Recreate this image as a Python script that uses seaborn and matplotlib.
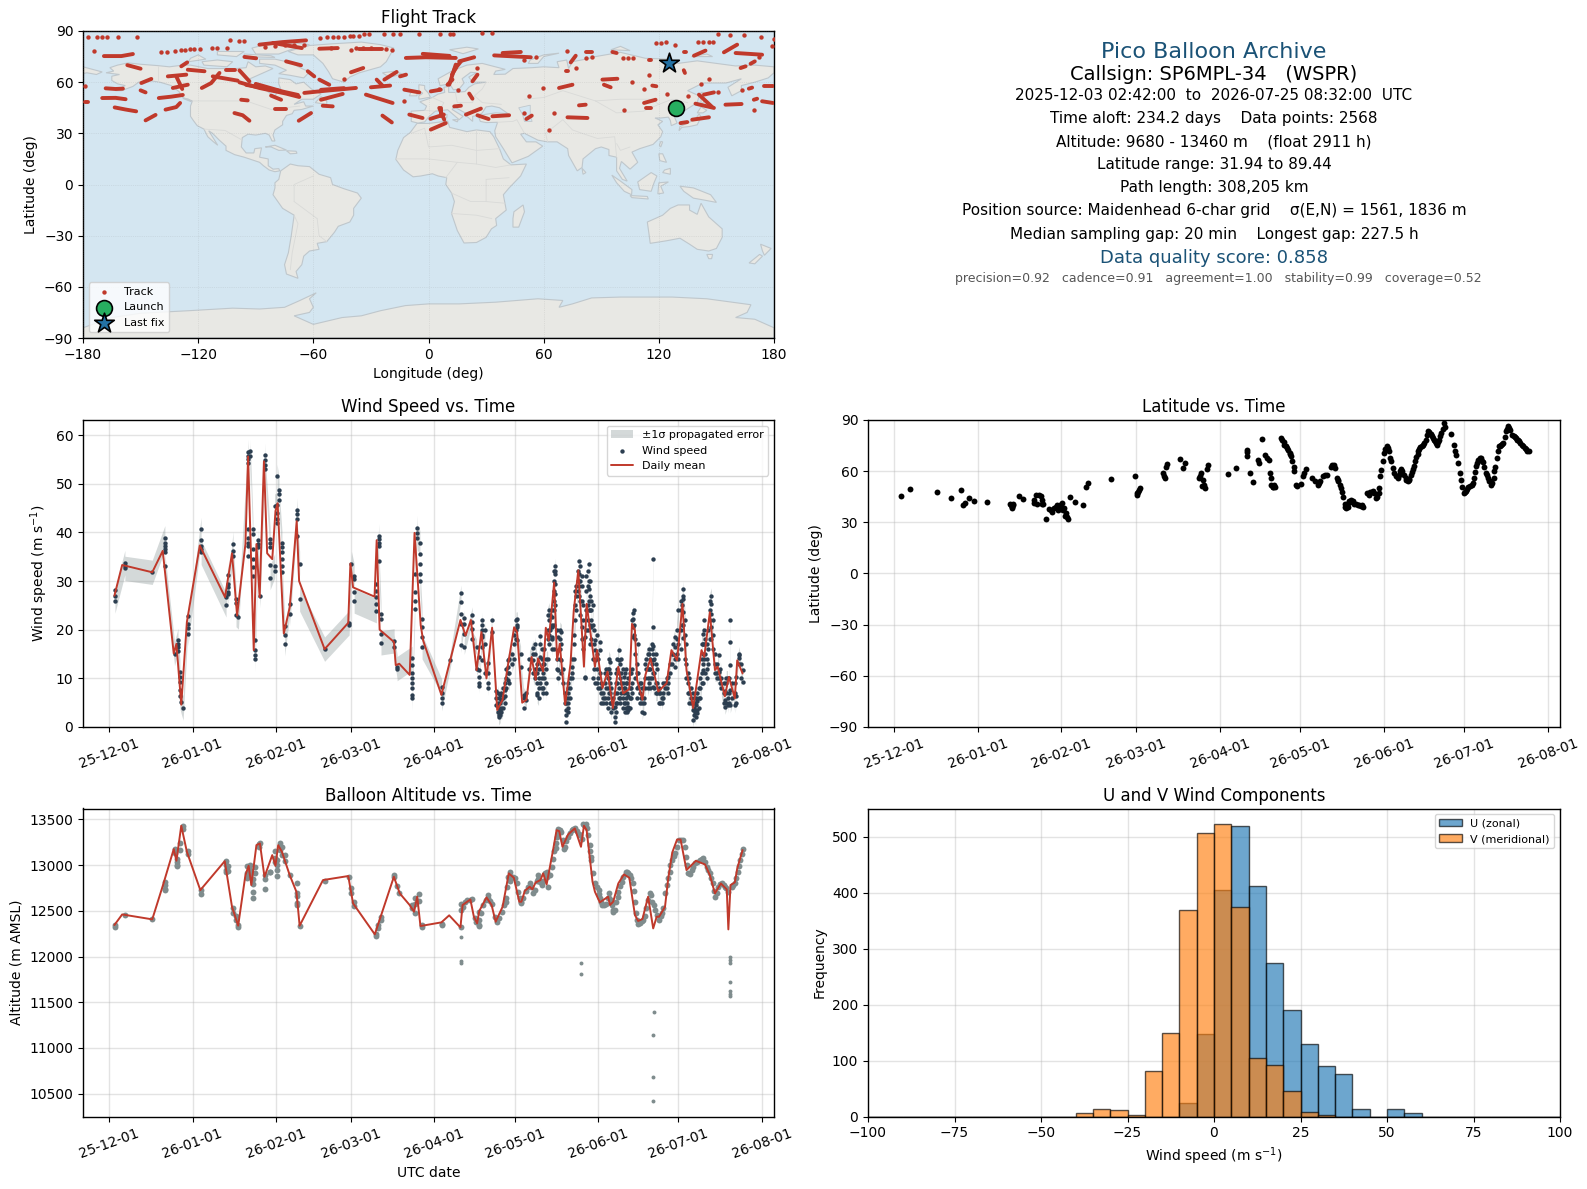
import numpy as np
import pandas as pd
import matplotlib
matplotlib.use("Agg")
import matplotlib.pyplot as plt
import matplotlib.dates as mdates
import seaborn as sns

sns.set_theme(style="ticks", rc={
    "font.size": 10, "axes.titlesize": 12, "axes.labelsize": 10, "axes.titlepad": 5.6,
    "xtick.labelsize": 10, "ytick.labelsize": 10, "legend.fontsize": 8,
    "axes.edgecolor": "black", "axes.linewidth": 1.0,
    "xtick.color": "black", "ytick.color": "black", "text.color": "black",
    "axes.labelcolor": "black", "xtick.major.size": 3.5, "ytick.major.size": 3.5,
    "xtick.major.width": 0.8, "ytick.major.width": 0.8,
})

FIG_W, FIG_H = 1587, 1189
START = pd.Timestamp("2025-12-01")

# =========================
# land outlines (lon, lat), read by eye
# =========================
land_polys = [
    # north america
    [(-168,65.5),(-164,66.5),(-166,68.5),(-162,70),(-156.5,71.3),(-150,70.5),(-141,69.7),(-135,69),(-128,70),(-124,70),
     (-115,68),(-108,68),(-100,68),(-95,68.5),(-94,72),(-90,69),(-85,69.5),(-81,68),(-87,65),(-93,62),(-94.5,59),(-92,57),
     (-85,55.5),(-82,53),(-80,51.5),(-79,54),(-77,56),(-78,59),(-78,62.5),(-72,61.5),(-69,59),(-65,60),(-61,56),(-56,53),
     (-60,50),(-66,50),(-70,47),(-65,48.5),(-64,46),(-60,46),(-66,44),(-70,43.5),(-71,41.5),(-74,40.5),(-76,37),(-76,35),
     (-80,32),(-81,29),(-80,25.5),(-81.5,25.5),(-83,29),(-85,30),(-90,29),(-94,29.5),(-97,27.5),(-97.5,22),(-95,18.5),
     (-91,18.5),(-90.5,21),(-87,21.5),(-88,16),(-83.5,15),(-83.5,11),(-81,9),(-78,9.3),(-77.5,8),(-80,7.5),(-83,8.5),
     (-86,11),(-88,13),(-92,14.5),(-96,16),(-101,17.5),(-105.5,20),(-105.5,22.5),(-109,26),(-112.5,30),(-114.5,31.5),
     (-112,27),(-109.8,23),(-112,25),(-115,28),(-117,32.5),(-120.5,34.5),(-122.5,37.5),(-124,40),(-124,46),(-123,49),
     (-128,51),(-130,54.5),(-134,58),(-140,60),(-146,61),(-151,60),(-154,57.5),(-160,55),(-163,55),(-158,58),(-162,59),
     (-165,61),(-165,63.5),(-161,64.5)],
    # greenland
    [(-73,78),(-68,76),(-60,76),(-55,71),(-52,66),(-50,62),(-44,60),(-41,63),(-36,65.5),(-25,69),(-22,72),(-20,76),
     (-18,80),(-25,82),(-35,83.5),(-50,82.5),(-62,81.5),(-70,79)],
    # canadian arctic and atlantic islands
    [(-80,73.5),(-72,71.5),(-66,68),(-62,66),(-65,62.5),(-72,64),(-78,65),(-74,67),(-80,70),(-88,71),(-88,73.5)],
    [(-117,70),(-105,69),(-102,72),(-110,73),(-118,72)],
    [(-125,72),(-116,73.5),(-120,76),(-124,74)],
    [(-90,76.5),(-78,76.5),(-72,79),(-62,82),(-70,83),(-85,82),(-92,80)],
    [(-96,75),(-80,74.5),(-82,75.5),(-96,76.5)],
    [(-110,76),(-100,75),(-96,78),(-110,78)],
    [(-59,48),(-53,47),(-53,49),(-56,51.5)],
    [(-85,22),(-80,23),(-74,20.2),(-78,20),(-82,22)],
    [(-74,19.8),(-69,19.5),(-68.5,18.3),(-72,18)],
    [(-128,50.5),(-123.5,48.5),(-125,50)],
    # south america
    [(-77,8),(-72,12),(-68,11),(-62,10.5),(-57,6),(-51,4),(-50,0),(-44,-2.5),(-37,-5),(-35,-8),(-39,-14),(-39,-18),
     (-41,-22),(-47,-24.5),(-49,-28),(-53,-33.5),(-58,-34.5),(-57,-38),(-62,-39),(-65,-42),(-66,-47),(-69,-51),(-68,-55),
     (-74,-52.5),(-75,-47),(-73,-40),(-71.5,-30),(-70,-18),(-76,-14),(-81,-6),(-80,-2),(-80,1),(-78,3)],
    # africa
    [(-6,35.8),(0,35.8),(10,37.2),(11,33.5),(20,31),(25,32),(32,31),(34,28),(37,21),(39,15),(43,11.5),(51,12),(48,5),
     (42,-2),(39,-6),(40.5,-15),(35,-20),(35.5,-24),(32.8,-26),(30,-31),(25,-34),(18.5,-34.3),(15,-27),(12,-17),(13.5,-10),
     (12,-5),(9,0),(9.5,4),(5,5),(2,6.3),(-4,5),(-8,4.5),(-13,8.5),(-17,14.7),(-16,20),(-13,27.5),(-9.5,30.5)],
    # eurasia
    [(-9,37),(-9,43),(-2,43.5),(-1,46),(-4.5,48.5),(2,51),(5,53),(8.5,54),(8,57),(10.5,57.5),(10.5,54),(14,54),(19,54.5),
     (21,57),(24,59),(30,60),(23,60),(21,63),(25,65.5),(22,65.8),(17.5,62),(18.5,59.5),(16,56),(13,55.5),(11,59),(6,58),
     (5,62),(13,67),(20,70),(28,71),(40,67.5),(35,66.5),(34,64.5),(40,64.7),(44,68),(54,68.5),(60,69),(68,68.5),(67,72),
     (72,73),(73,68),(75,72),(82,73.5),(87,75),(100,77.5),(113,74),(125,73.5),(130,71),(140,72.5),(150,71),(160,69.5),
     (170,70),(180,69),(180,65.5),(177,62.5),(170,60),(163,58),(163,55),(158,52),(156,57),(163,62),(155,59.5),(143,59.5),
     (135,55),(141,52),(140,48),(133,43),(128,40),(129.5,36),(126.5,34.5),(126,37.5),(125,39.5),(121,39),(118,39),(122,37),
     (119.5,35),(122,31),(121,28),(117,23.5),(110,21),(106,19),(109,13),(105,9),(100.5,13.5),(99.5,9.5),(103.5,2),(101,3),
     (98,8),(98,16),(94,17),(94,20.5),(90,22),(87,21),(80.5,15),(80,10),(77.5,8),(73,17),(72.5,21),(67,25),(62,25),(57,26),
     (50,30),(48,29.5),(51,25),(56,25),(59.5,22.5),(52,16.5),(43.5,12.7),(39,21),(35,28),(34.5,31.5),(36,36.5),(30,36.3),
     (27,37),(26,40),(29,41),(35,42),(41.5,41.5),(37,45),(33,46),(30,45.5),(28,42),(26,40.5),(23,40),(23,37),(20,40),(19,42),
     (13.5,45.5),(12.3,44),(18,40),(16,38),(10,43.8),(3.5,43),(0,39.5),(-2,36.7),(-5.5,36)],
    [(-180,69),(-175,67.5),(-170,66),(-173,64.5),(-178,65.5),(-180,65)],
    # european and asian islands
    [(-5,50),(1,51.2),(0,53.5),(-2,56),(-2,58),(-5,58.5),(-5,55),(-3,53.5),(-5,52)],
    [(-10,52),(-6,52),(-6,55),(-9,54.5)],
    [(-24,65.5),(-18,66.3),(-14,65),(-18,63.5),(-22,64)],
    [(11,79),(20,80.5),(26,79.5),(18,76.7)],
    [(52,71),(57,71),(60,75),(68,77),(60,76),(53,73)],
    [(95,79),(105,78.5),(100,81)],
    [(137,75),(148,75),(145,76.5)],
    [(142,46),(143.5,49),(143,54),(142,54),(142,49)],
    [(130.5,31.5),(132,33.5),(136,34),(140,35),(142,39.5),(141,41.5),(139.5,39),(136,36.5),(131,34)],
    [(140,42),(143,42),(145,43.5),(142,45.5)],
    [(120.3,23),(121,22),(122,25),(121,25.2)],
    [(120,18),(122,18),(124,13),(120.5,14)],
    [(122,7),(126,6),(126,9.5),(123,8.5)],
    [(95.5,5.5),(100,2),(106,-3),(105.8,-6),(102,-4),(98,1)],
    [(105,-6.5),(114,-7),(114.5,-8.5),(106,-7.7)],
    [(109,1.5),(116,7),(119,5),(117.5,1),(116,-4),(110,-3)],
    [(119.5,-5.5),(120,1),(125,1.5),(121,-1),(122.5,-5)],
    [(131,-1),(138,-2),(147,-6),(150,-10.5),(143,-9),(138,-8),(133,-4)],
    [(80,9.5),(82,7),(80.5,6)],
    [(8.3,41),(9.7,41),(9.5,39),(8.4,39)],
    [(12.5,38),(15.5,38),(15,36.7)],
    # australia, new zealand, madagascar
    [(114,-22),(122,-18),(126,-14),(130,-12),(136,-12),(136,-15),(140,-17.5),(142,-11),(146,-19),(153,-26),(153,-31),
     (150,-37.5),(146,-39),(140,-38),(136,-35),(131,-31.5),(124,-33),(115.5,-34.5),(115,-30)],
    [(145,-41),(148,-41),(147.5,-43.5),(146,-43.5)],
    [(173,-35),(178.5,-37.5),(175,-41.5),(174,-39)],
    [(172.5,-41),(174,-42),(170,-46.5),(167,-46)],
    [(49.3,-12),(50,-16),(47,-25),(44,-25),(44,-20),(44.5,-16)],
    # antarctica
    [(-180,-84),(-165,-78),(-150,-75.5),(-125,-74),(-102,-72.5),(-88,-73),(-75,-72),(-67,-68),(-58.5,-63.5),(-62,-67),
     (-60,-72),(-62,-75),(-70,-77),(-60,-82),(-45,-78),(-35,-77),(-25,-74),(-12,-71),(0,-70),(16,-70),(35,-69),(57,-67),
     (70,-68),(68,-72),(75,-70),(85,-66.5),(100,-66),(127,-66),(145,-67),(168,-70.5),(166,-75),(160,-78),(170,-79),
     (180,-84),(180,-90),(-180,-90)],
]
water_polys = [[(47,45),(53,46.5),(53,40),(54,37),(50,37),(49,41)]]
border_lines = [
    [(-123,49),(-95,49),(-82,44),(-75,45),(-67,46)], [(-117,32.5),(-106,31.7),(-97,26)], [(-141,69.7),(-141,60)],
    [(-70,-10),(-70,0),(-60,5)], [(-58,-20),(-70,-10)], [(-58,-20),(-57,-30),(-53,-33.5)], [(-70,-18),(-68,-23),(-71,-40),(-72,-50)],
    [(-9,30),(-2,33),(0,22),(12,23),(25,20),(37,21)], [(25,32),(25,12),(35,10),(43,11.5)], [(-17,15),(0,15),(15,13),(25,12)],
    [(12,-5),(22,-10),(30,-10),(40,-11)], [(12,-17),(25,-18),(33,-20)], [(9,4),(15,13)], [(30,-10),(30,3),(42,4)],
    [(30,60),(28,56),(24,52),(28,48),(38,47)], [(2,51),(8,48),(6,44)], [(-2,43.5),(3,43)], [(14,54),(15,48),(23,48),(24,52)],
    [(50,50),(60,51),(70,55),(87,49)], [(87,49),(98,42),(112,43),(120,47),(116,50),(100,50),(87,49)],
    [(62,25),(61,30),(70,38),(75,32),(80,30),(88,27),(97,28),(98,16)], [(50,30),(46,38),(44,37),(36,36.5)],
    [(120,47),(127,50),(135,48)], [(105,22),(100,20),(98,24)],
]

# =========================
# flight track
# =========================
track_runs = [
    [(-169.1,75.3),(-160,75.3),(-154,76.5)], [(-156.9,70),(-150,67.9)], [(-149.6,59.5),(-144.4,61.9)],
    [(-150,55.2),(-147.4,54)], [(-179.1,48.4),(-177.4,48.4)], [(-168.2,56.4),(-163,56),(-159.2,56.2)],
    [(-170,50.7),(-163,50.8),(-157.8,50)], [(-163.5,45.2),(-158,44),(-152.3,42.9)], [(-147.4,37.6),(-142.2,40.8)],
    [(-140.5,50.7),(-134,51.5),(-128,52.5)], [(-137,43.9),(-131.4,45.4),(-129.4,47.8)], [(-135.8,63.4),(-126.2,64.4)],
    [(-133.2,56.6),(-125.4,58.5)], [(-131.4,63.4),(-128.3,56)], [(-128.8,69.3),(-125.7,71.6)],
    [(-125.4,67.3),(-116.7,66.4)], [(-118.1,56.6),(-113.2,59.5),(-108.9,65.4)], [(-112.4,63.4),(-99.4,60.9)],
    [(-105.4,66.9),(-100.6,66.9)], [(-98.5,66.9),(-93.3,60.5)], [(-95.9,74.8),(-89.8,74)],
    [(-88.1,82),(-76,83.5),(-63.8,84.5)], [(-81,83),(-66,80)], [(-74.2,72.2),(-66.4,69.9)], [(-62.9,66.4),(-59.5,63.4)],
    [(-56.9,61.5),(-51.7,58.5)], [(-98.5,59.9),(-88.1,56.6),(-74.2,53.3),(-67.3,51.3)], [(-95,58.4),(-78,55)], [(-90,59),(-76,54.5),(-68,52.5)],
    [(-97.6,49.7),(-94.2,49.3)], [(-82,52.1),(-76.8,49.7)], [(-79.8,44.3),(-74.2,44.3)],
    [(-101.1,41.9),(-96.8,40.6),(-93.3,37.4)], [(-67.6,37.4),(-61.2,41.9)], [(-64.7,53.7),(-53.4,55),(-37.8,56.6)], [(-56,55.5),(-44,56.5)],
    [(-56,49.7),(-44.7,53.1)], [(-55.1,46.2),(-49.9,45.8)], [(-56.9,79.6),(-47.3,80)],
    [(-36,79.4),(-24,79.4)], [(-40.4,65.8),(-34,68.3)], [(-32.6,52.7),(-18.7,47.8)], [(-30,57),(-20,58)], [(-27,61.5),(-24,58)],
    [(-23,61.5),(-16.6,66)], [(-14.8,63.4),(-11.7,64.4)], [(-24,40.4),(-19.1,36.4)], [(-12.6,55.6),(-4.8,54)], [(1.2,54.6),(6.4,55.6)],
    [(-11.8,74.2),(-1.4,74.6),(14.2,74.2)], [(-3,76.6),(11,75.4)], [(-10,41),(-3.1,39)], [(1.2,32.2),(9,36)], [(1,38.5),(8,41)], [(6.4,44.9),(6.4,40)],
    [(14.2,70.3),(10.8,58.5)], [(5.6,44.9),(8.2,38)],
    [(16,72.2),(23.8,74.6)], [(13.4,67.3),(16.9,72.2)], [(9.9,58.5),(12.5,61.5)], [(12.2,64.4),(14.3,68.3)], [(22.9,60.5),(25.5,64.4)],
    [(21.2,53.3),(22.9,50.3)], [(13.4,45.8),(16.9,46.2)], [(19.5,41),(27.3,44.5)], [(25.5,40.6),(31.3,38.4)], [(33.3,40),(42,40.6)],
    [(51,38.4),(53.8,40.4)], [(34.2,75.7),(53.3,74.6)], [(38.6,77.1),(48.1,77.7)], [(74.1,71.6),(76.7,75.5)],
    [(82,77.7),(85,77.7)], [(95.8,77.7),(98,77.1)], [(138.3,75.5),(144.3,78.5)], [(133,67),(133.6,65.4)], [(116.6,58),(118.7,57.6)],
    [(139.1,47.4),(148.7,44.9)], [(140.9,52.7),(147.8,45.4)], [(143.5,52.7),(148.7,54)], [(137.4,38),(146.1,39.4)], [(131.3,36),(134.8,36.6)],
    [(154.7,46.8),(163.1,47.2)], [(166.9,56.2),(168.6,56.8)], [(169.5,49.7),(171.2,50.3)], [(173.8,48.8),(179.5,47.8)], [(174.7,57.6),(179.5,57.6)],
    [(162.6,68.3),(165.2,69.3)], [(167.8,70.8),(170,72.2)], [(153.9,77.5),(160.8,82)], [(160,77.1),(173.8,76.1)], [(90.6,61.5),(98.4,62)],
    [(91.4,58.5),(94.9,57)], [(75,58.5),(68,56.6)], [(78.4,46.4),(81.9,46.8)], [(72.4,39.4),(82.8,39)], [(112.3,47.8),(118.3,49.7)], [(113.1,44.9),(115.7,44.9)],
    [(71.5,66.4),(72.5,66.4)], [(115,73),(116,73)], [(133,77.5),(134,77.5)],
]
track_lon = [-177.4,-172.7,-170.1,-167.5,-161.8,-151.9,-174.3,-179.1,-139.2,-136,-132,-129,-127,-124,-122,-119.3,-112.7,-110,-105,-103.3,-98.5,-95.9,
             -43.9,-40.4,-31,-23,-18.5,-15,-5,6,11,13,-13,28,33,50,56,72,77,82,85,101.3,104.1,106.7,118.7,121.3,123.5,128.4,140.2,143,146,148,
             142.1,146.3,114.9,112.4,124.4,135.3,105.8,59.4,52.6,49.8,65.4,62.8,102,150.9,163.4,169.8,172.1,179,151,157,164.5,173,180,-51,-38,-34,-30,15.5,25.2,5.6,
             -56.4,-53,-50,-47,-44,-41,-39.5,-36,-33.4,-22,-19,-85,-80,-75,-70,-65]
track_lat = [86.5,86.5,86.5,86.5,86.5,86.5,78.3,57.6,77.7,77.9,78.2,78.6,79,79.3,79.5,79.4,80,80.2,80.2,84.9,84.1,84.1,
             62,78.7,88.5,88.5,88.5,88.5,88.5,88.5,88.5,88.5,49,88.8,88.8,73,75,78,68.3,74.2,75,74.2,74.2,74.2,83,83,83.5,81.8,83.4,83.4,83.4,83.4,
             58.9,61.9,64.4,56,53.1,52,60,56.6,51.9,41.9,41.9,32,43.9,54.4,55.6,43.9,75,81.4,88,87.5,87.5,86.5,85.5,80,80,80,80,55.4,68.3,56,
             85.9,86.2,86.2,86.5,86.5,86.8,86.9,87.3,88.2,79.4,79.1,80.5,81,81.5,82,82]
launch_lon, launch_lat = 128.8, 44.8
last_lon, last_lat = 125.1, 71.2

# =========================
# wind speed: (day since 2025-12-01, values at that day)
# =========================
wind_cols = [
    (2.1,[28.2,26.9,25.9]),(5.8,[33.8,33.1,32.6]),(16,[31.8]),(20.7,[38.9,37.9,37.2,36.5,35.9,33.1]),(24.3,[15.1]),
    (25.6,[17.8,17.1,16.5,15.6]),(26.3,[11.4,10.3,9.3,7.6,6.3]),(26.8,[5.2]),(27.5,[3.9]),(29.3,[22.9,21.2,20.4,19.2]),
    (34.2,[40.6,38.4,37.3,36.5,35.9]),(43.5,[25.1,26.7]),(44.2,[31.2,29.4,28.7,27.7,27.3]),(46.1,[37.7,36.2,35.2]),
    (47.2,[26.3,25.5,23.1]),(48.1,[22.6]),(51.7,[56.6,55.8,55.1,54.2,40.6,38.9,37.9,37.2,35.2]),(52.5,[56.7,55.6]),
    (53.5,[40.6,39.6,36.5,34.5,32.8,31.1]),(54.3,[17.8,15.8,14.8,13.9]),(55.4,[38.4,37.6,36.9]),(56.1,[27]),
    (58,[55.9,54.9,53.9,53.1]),(59.9,[38.6,37.9,37,33.3,30.7]),(61.6,[33.1,32.1,45.4]),(62.5,[45.7,44,42.7,42,51.5]),
    (63.2,[48.8,47.8,46.7]),(64.3,[37.9,36.9,35.9,34.5,33.1,31.8]),(65.3,[20.7,19,17.1]),(67.2,[25.3,23.3]),
    (70,[44.6,43.7,42.7,39.3]),(70.9,[33.6,26.3]),(80.2,[16]),(89.3,[21.4,21]),(90.2,[33.6]),(91.2,[31.1,30.4,27.7,25.9]),
    (99.5,[23.9,25.3,26.7,28,29.4]),(100.4,[39.3,38.6,37.9,37.2,34.1]),(101.2,[23.3,22.2,19.2,17.3]),(106.1,[17.7,16.5]),
    (107.2,[12.4,12]),(112.8,[14.1,12.7,11,10,9,8,6.6,5.9]),(113.8,[24.3,26,27.7,31.4]),(114.7,[41,39.9,38.9]),
    (115.7,[37.9,35.5,33.5,31.4,30.1]),(116.5,[22.2,20.5,18.5,16.5]),
    (123.8,[8.3,6.9,5.9,4.9]),(127,[13.7]),(131,[27.6,25.6,23.3,21.2,16.9]),(132.2,[22.4,21.2,19.2,16.5]),
    (135.2,[23.1,21.6,20.2,18]),(136.8,[16.5,12]),(137.8,[14.4,11.7,10.3,9,8.5]),(139,[22,21,20,19,18.5,16.5,13.7]),
    (140,[20,17,11]),(141.1,[13.1,11,9,8]),(142.5,[22,19.5]),(144,[7.5,6,4.5]),(145,[6,4,2.5,2]),(146,[7,5.5,4,3]),
    (147.3,[9,7.6,6.3,4.9]),(148.6,[13.7,12.4,11,9.7]),(150,[15,13]),(152,[22.1,21,20.5,17.8]),(153.2,[15.1,12.4]),
    (154.4,[5.9,3.9,6.5]),(155.4,[5.5,7]),(157.9,[16.3,15.1,13.7,11]),(159.4,[13,11,9,7,6.5]),(160.6,[18.8,17,14.4,9]),
    (161.6,[13,11,8,7]),(162.8,[7,9,12,14]),(163.9,[24,22,19,17]),(164.8,[22.6,20.5,18.5,16]),(165.5,[26,24,21,16]),
    (166,[33.1,32,31.4,29.4,27.4,25]),(167.2,[18.5,15.8,11.7,10]),(168.4,[19.5,17,13.7,11]),(169.8,[7,5]),
    (170.2,[4.9,3.5,1,2.5,6]),(171.5,[10,8,6]),(172.5,[14,12.4,11,10]),(174,[29,27,24]),(175,[34.1,31.4,30.1,29,27]),
    (175.9,[31,28.9,26,20.6,18]),(177.1,[18.5,10.3,10]),(178.8,[33.5,30,28.3,26,24]),(179.6,[26,24,22,20.5,18]),
    (180.2,[25,21,14,10]),(180.9,[17.8,15.8,13.7,9]),(182.7,[17.5,15.8,11,8]),(184,[7,5,6]),(185,[5,8,12]),
    (186.5,[13.4,11,9,7,5]),(187.6,[6,4]),(188.3,[4.2,2.1,1.1,7]),(189.8,[15.8,13.7,11,8,6]),(190.7,[14,11,9,7]),
    (191.7,[10.3,6.9,4.9,8]),(192.5,[12,9,6,4]),(193.3,[6.3,4.2,3.5,10]),(194.2,[11,8,6]),(195.1,[23.5,22.2,20.5,18.5]),
    (196,[18,15,10]),(197,[17.1,11,8.3]),(198,[9,6]),(199.1,[4.9,2.9,6]),(200.5,[15,12,10,8]),(201.5,[14,12,10,8]),
    (202.6,[34.6,20.6,16.6,15,13.7,11,8.3]),(203.5,[15,13,9,7]),(204.8,[6.9,4.9,8]),(205.8,[6,5]),(207,[9,8]),
    (208.2,[10.3,6.9,9]),(209.5,[15,13]),(210.7,[18.5,16.5,12.4,14]),(212,[24,17,14]),(213.8,[28.4,26.4,23.6,20.9,18.2,27]),
    (214.5,[22,19,14]),(215.5,[11,9,7]),(216.5,[8,6,5]),(217.3,[6.9,4.9,3.5,1.5]),(218,[5,3.5,3]),(218.8,[5.4,3.5,2.9,7]),
    (220,[10,8,6]),(221.2,[19.2,17.1,15.1,11.7,13,9]),(222.5,[17,14,12,10]),(224.3,[27,25.3,23.3,20.5,18]),(225,[22,19,16]),
    (227,[14.8,11.4,10.1]),(228,[10,8]),(229.3,[7.5,5.5,4.2]),(230.3,[10,6,4.5]),(231.3,[21.9,17.5,12.8,7.6,4.5]),
    (233.4,[4.9,6.3,10.3]),(234.5,[14.8,14.1,13,15]),(235.9,[11.7,9.3]),
    # the dense stretch from April on, between the columns above
    (144.7,[3,5,7]),(145.6,[2.5,3.5,5,6.5]),(146.6,[4,6,8]),(147.9,[8,10,12]),(149,[9,11,14]),(150.6,[14,17,19]),(151.5,[18,20,22]),
    (156.5,[12,14]),(158.5,[10,12,15,17]),(159.9,[6,8,10,12]),(161,[8,10,12,14,16]),(162,[10,13,16]),(163.3,[14,18,20,23]),(164.3,[20,23]),
    (165,[18,21,24]),(165.8,[28,30,32]),(166.6,[20,14,12]),(167.8,[14,16,18,20]),(169,[9,12]),(170.7,[3,4,6,8]),(171,[5,7,9]),(173,[14,17,19]),
    (173.6,[22,25,28]),(174.6,[30,32,28]),(175.4,[33,30,26,23]),(176.4,[22,25,16]),(177.7,[28,31,24,20]),(178.2,[32,29,25,22,20]),(179.2,[30,27,24,21,17]),
    (180.5,[20,17,12]),(181.5,[19,15,12,9]),(182,[14,10,8]),(183.3,[7,5,9]),(184.6,[6,9,11]),(185.6,[4,6,8,10,12]),(186,[7,10,12,14]),(187,[3,5,8]),
    (188.8,[3,5,9,11]),(189.3,[5,7,9,12,14]),(190.3,[13,10,6,5]),(191.2,[12,9,6,4]),(192,[11,8,5,3]),(193,[5,7,9,3]),(193.8,[4,6,8,11]),(194.7,[9,7,12,22]),
    (195.5,[21,24,19]),(196.5,[13,8,6,11]),(197.6,[9,7,5]),(198.5,[8,5,3]),(199.6,[8,10,13]),(200,[12,14]),(201,[9,12,15,16]),(202,[10,13,16,17]),(203,[8,11,14]),
    (204.2,[7,9,12]),(205.2,[5,7]),(206.4,[7,9,6]),(207.6,[8,10]),(208.8,[11,13]),(210,[15,17]),(211.3,[15,18,20]),(212.8,[26,24,20,16]),(213.2,[21,25]),(215,[17,13,10]),
    (216,[7,10,5]),(217.7,[2.5,4,6]),(218.4,[2,3,4.5,6]),(219.5,[4,6,8]),(220.6,[9,11,14,17]),(221.7,[14,17,20,22]),(222,[11,15,18]),(223,[13,16,20]),(223.7,[18,22,24,26]),
    (225.6,[13,15,11]),(226.3,[11,13,10]),(227.6,[9,12]),(228.8,[5,7,9]),(229.8,[5,7,9,10]),(230.8,[7,10,5]),(232,[6,9]),(233,[4.5,7,9]),(235.2,[13,10]),
]
sigma_early = 2.5   # m/s, band half width before mid April
sigma_late = 1.6
sigma_split_day = 120

mean_days = [1.9,4.8,16,19.9,24,25,26.8,28.9,33.7,43.1,45.7,47.6,50.7,51.7,53.8,54.8,56,57.6,58.8,60.7,61.9,62.7,65,67.2,69.8,70.7,80.2,89,89.8,90.8,98.8,99.6,100.7,106,106.7,108,111.9,113.7,116,
             116.9,123.7,130.8,132.7,134.7,136.8,138.6,140.5,142.6,144.5,146.5,148.2,150.8,151.9,153.8,155.4,157.3,158.8,159.7,161.6,162.6,163.7,165.7,166.8,167.8,169.8,171.8,173,174.7,176.8,177.8,180.9,181.7,183.7,185.6,187.6,189.6,191.4,193.7,194.7,195.8,196.6,198.6,199.7,201.6,204.5,207.6,209.4,211.5,213.5,215,217.5,220.6,221.6,223.7,225.6,226.6,229.3,230.8,233,233.9,235.9]
mean_wind = [27,33.3,31.8,36.2,15.1,17.1,4.6,21.6,37.3,26.7,35.7,22.9,37.6,55.6,15.8,37.6,26.7,54.6,35.7,34.5,44.4,46,19.2,24.6,42.3,30,16,21.4,33.6,28.7,26.8,38.4,20,17.5,12.7,13,10.7,39.9,20.9,
             17.8,6.6,22,18.8,22,11.7,19.5,10,20.4,3.5,5.6,11.7,20.5,19.5,5,5.6,14.4,9.7,14.1,11.4,20.4,17.8,29.7,13.7,17.1,4.6,13,23.9,32.2,12.4,25.3,12.4,15.8,8,11.4,3.9,12.4,6.9,7.8,21.2,19.9,9.7,5.6,10.7,14.1,7.3,9,15.8,13.7,25.3,11.7,3.9,15.8,14.4,23.6,11.7,12.4,6.3,10.3,5.9,13.7,11]

# =========================
# altitude
# =========================
alt_cols = [
    (2.1,[12327,12345]),(5.8,[12454]),(16,[12410]),(20.7,[12820,12780,12740,12730]),(24.3,[13180,13130]),(25.3,[13070,13000,12990,13040]),
    (26.2,[13240,13170]),(27.4,[13430,13400]),(29.3,[13150,13120]),(34.2,[12730,12680]),(43.5,[13050,13000,12950,12920]),(44.2,[12990,12940]),
    (46.1,[12530,12480]),(47.2,[12440,12400]),(48,[12340,12320]),(51.4,[12990,12910,12860]),(52.4,[13000,12950,12890]),(53.5,[12790,12710,12640,12850]),
    (54.4,[12980,12910]),(55.7,[13230,13200]),(56.1,[13240]),(58,[12890,12850,12735]),(59.9,[12930,12920]),(61.6,[13150,13080,13030]),
    (62.5,[13060,13000,12950,12880]),(63.5,[13240,13170]),(64.3,[13200,13110]),(65.4,[13110,13050]),(67.2,[12890]),(70,[12800,12700,12660,12590,12560]),
    (70.9,[12330]),(80.2,[12830]),(89.3,[12875]),(90.2,[12750,12700]),(91.2,[12600,12550]),(99.5,[12220,12250]),(100,[12310,12350]),(101.2,[12435,12400]),
    (106.1,[12870,12890]),(107.2,[12770]),(107.9,[12690]),(112.8,[12560,12530]),(113.8,[12640,12570,12480]),(115.4,[12680,12610]),(116.5,[12340,12320]),
    (124,[12360,12350]),(131,[12320,12510,12580]),(132.4,[12600]),(135.2,[12630]),(136.1,[12420]),(137.8,[12350,12330,12400,12490]),
    (139.3,[12560]),(141.1,[12670,12640]),(142.7,[12570]),(144.5,[12375]),(146.1,[12490]),(147.7,[12640,12600]),(149.2,[12930,12880,12830]),(151,[12860]),
    (152.3,[12710]),(153.5,[12590,12600]),(155.2,[12720]),(156.6,[12800]),(158.5,[12730]),(159.7,[12890,12850]),(161,[12780]),(162.9,[12930,12870]),
    (163.5,[12760]),(164.3,[12890]),(165.3,[13070]),(166.3,[13240,13190]),(167.2,[13400,13350]),(168.4,[13365]),(169.3,[13180]),(170.9,[13310]),(172.2,[13385]),
    (173.4,[13410]),(175.3,[13330]),(176.5,[13455]),(177.4,[13450]),(178.4,[13330]),(179.6,[13090,13060]),(180.9,[12800]),(182.4,[12730,12680]),
    (183.7,[12560]),(185.2,[12580]),(186.2,[12690,12640]),(187.7,[12510,12490]),(189.6,[12710,12650]),(190.8,[12820]),(192.3,[12920]),(193.9,[12890]),
    (195.1,[12800]),(195.8,[12600]),(197,[12360]),(198.3,[12385]),(199.5,[12440]),(201.4,[12690]),(202.2,[12600]),(203.4,[12510]),(204.8,[12400]),
    (206.3,[12530]),(208.2,[12855]),(209,[13000]),(210.7,[13130]),(212.3,[13275]),(213.8,[13275]),(214.8,[13090]),(215.6,[12910]),(216.9,[12945]),(218.1,[13020]),
    (220,[13055]),(221.2,[13075]),(222.7,[12985]),(223.7,[12910]),(224.7,[12800]),(225.6,[12655]),(226.8,[12765]),(228.1,[12800]),(229.7,[12745]),(230.6,[12710]),
    (231.8,[12765]),(233,[12800]),(234.3,[12925]),(235.1,[13055]),(236.1,[13180]),
    # between the columns above, from mid April on
    (131.6,[12540]),(133.3,[12620]),(134.3,[12620]),(136.6,[12380]),(138.5,[12480]),(140.2,[12620]),(141.9,[12610]),(143.6,[12430]),(145.3,[12420]),(146.9,[12560]),(148.3,[12760]),(148.7,[12870]),
    (150.2,[12870]),(151.7,[12800]),(152.9,[12640]),(154.2,[12640]),(155.9,[12760]),(157.2,[12760]),(158,[12700]),(159.2,[12830]),(160.3,[12820]),(161.7,[12830]),(162.4,[12910]),(164.9,[12980]),
    (165.8,[13150]),(166.8,[13310]),(167.8,[13390]),(169,[13270]),(169.8,[13200]),(170.3,[13260]),(171.6,[13350]),(172.8,[13400]),(174.2,[13370]),(174.8,[13340]),(175.9,[13290]),(177,[13440]),
    (177.9,[13410]),(178.9,[13220]),(179.2,[13150]),(180.3,[12910]),(181.6,[12760]),(182.9,[12640]),(183.1,[12600]),(184.4,[12560]),(185.8,[12640]),(186.7,[12620]),(187.2,[12560]),(188.2,[12510]),
    (188.9,[12600]),(190.2,[12770]),(191.5,[12870]),(192.9,[12920]),(193.4,[12910]),(194.5,[12860]),(195.4,[12720]),(196.2,[12480]),(196.6,[12400]),(197.6,[12370]),(198.9,[12400]),(200,[12530]),
    (200.8,[12620]),(201.8,[12670]),(202.8,[12560]),(204,[12450]),(205.4,[12440]),(205.9,[12480]),(207,[12700]),(207.6,[12780]),(208.7,[12930]),(209.5,[13060]),(210.2,[13100]),(211.3,[13200]),
    (213,[13280]),(214.3,[13200]),(215.2,[13000]),(216.2,[12900]),(217.5,[12980]),(218.9,[13040]),(220.6,[13070]),(221.9,[13030]),(223.2,[12950]),(224.2,[12860]),(225.2,[12720]),(226.2,[12700]),
    (227.5,[12790]),(228.9,[12780]),(229.2,[12760]),(232.4,[12780]),(233.6,[12860]),(234.7,[12990]),(235.6,[13120]),
]
# low readings well under the float level
alt_out_days = [131,131,131,175.8,175.8,202.6,202.6,202.6,203,231.3,231.3,231.3,231.3,231.3,231.3,231.3]
alt_out_vals = [12210,11951,11926,11926,11806,11139,10680,10420,11390,11990,11960,11930,11725,11627,11590,11568]
mean_alt_days = [1.9,4.8,16,20,24,25,26.8,28.9,33.9,43,45.7,48,50.7,51.9,52.9,54.8,56.1,57.8,60.7,61.9,62.9,64.3,67.2,69.7,70.9,79.6,89,90.8,98.9,106,108.2,111.9,113.5,114.7,115.9,
                 123.7,126.6,130.8,131.6,134.5,135.8,137,137.8,140.5,142.4,143.9,146.5,148.8,150.7,152.7,153.5,154.8,156.6,157.6,158.8,160.6,161.6,162.9,165.3,166.6,167.6,168.8,170.9,173.4,175.7,176.8,177.8,180,180.9,182.7,185.8,186.5,187.7,189.6,191.7,193.7,195.8,197,198.6,200.7,202.6,203.9,204.8,207,208.2,209.7,211.5,212.8,215,218.5,221.9,223.7,225.6,227.8,230,230.6,231.4,233,233.9,235.9]
mean_alt = [12345,12461,12407,12782,13176,13048,13431,13146,12727,13044,12545,12338,12891,12993,12782,13219,13238,12873,13110,12993,13219,13146,12891,12709,12338,12837,12881,12582,12243,12873,12691,12563,12491,12655,12334,
            12374,12451,12319,12564,12625,12436,12363,12498,12647,12564,12381,12545,12910,12862,12600,12600,12720,12764,12735,12811,12837,12910,12789,13165,13383,13372,13201,13336,13402,13201,13431,13383,12819,12709,12593,12655,12564,12600,12800,12899,12862,12454,12389,12411,12655,12308,12436,12436,12545,12855,13139,13281,13281,12946,13048,13008,12891,12691,12800,12735,12297,12782,12811,12964,13165]

# =========================
# latitude
# =========================
lat_days = [2.3,6,16,20.9,24.7,25.7,26.3,27.6,29.6,34.3,43.3,43.8,44.2,46.4,48,51.9,52.6,53.2,54.5,54.8,55.4,56.4,58.3,58.5,59.2,60,60.8,61.6,62.4,63.2,64,64.5,65.5,67.1,70.1,71.3,
            80.5,89.5,90.2,90.6,91.5,99.9,100.7,101.5,106.4,107.3,108.1,113.3,114.1,114.9,115.7,116.5,124.1,127,131.1,131.1,132.2,133.3,135.4,136.9,137.9,139.2,139.7,140,140.8,141.6,
            143.7,144.3,144.8,145.6,146.4,147,147.6,148.5,149.3,151.3,152.4,153.2,155.3,157.4,158.4,159.4,160.2,161,162.3,163.4,164.5,165.2,165.8,166.6,167.5,168,168.5,169.2,169.9,171,172.3,173.4,174.4,175.8,177,178,179.1,180.4,180.7,181.2,182,183.1,183.9,184.7,185.4,186,187.2,187.8,188.5,189.6,190.2,190.9,191.6,192.2,192.9,193.6,194.2,194.9,195.7,196.5,197.6,198.6,199.5,200.3,201.1,201.9,202.7,203.5,204,204.6,207,208.2,209,210.3,211.1,211.9,212.7,213.5,214.3,215.1,215.9,216.5,217.1,218.4,219,219.5,220.2,220.8,221.4,221.9,222.9,223.5,224,224.8,225.6,226.4,227.5,228.3,229,229.6,230.4,231.2,232,232.8,234,235,236.1,
            43,43.6,44,52,53.8,55,57.5,60.4,61,61.9,62.8,63.6,64.2,72,90.4,91,100.3,101.2,113.8,114.5,115.3,116.2,131.1,135.8,138.5,140.2,141,141.3,145,146,147.3,148,148.8,149.6,152,156.3,158,162.9,164,165,166.2,166.9,167.8,168.3,168.7,169.5,170.5,171.6,172.9,173.9,176.4,177.5,178.5,179.5,180.2,181.6,182.6,183.5,184.3,186.6,188.1,189,190.5,191.3,192.6,193.3,194.6,195.3,196.1,197,198.1,199,199.9,200.7,201.5,202.3,203.1,205,208.6,209.6,210.7,212.3,213,214.7,215.5,216.8,217.7,218.7,220.5,221.1,222.4,223.2,224.4,225.2,226,227,227.9,228.7,230.8,231.6,232.4,233.4,234.5,235.5]
lat_vals = [45.3,49.8,47.6,44.3,49.2,40.2,41.2,44.3,42.5,42.2,40.2,39.2,41,45.5,43.5,41.2,45.9,40.8,45.7,40.6,40.8,32,37.3,36,38.5,38.8,39,40.2,41.2,38.2,35.3,31.8,44.7,41.8,40.2,51,
            55.5,56.9,46,48,50,58.8,55.9,64.1,67,61.8,64.7,55.9,58.8,54.9,50,63.7,58.2,62,72.5,69,58.8,53.5,66.3,78.8,69.6,66.7,58.8,55.9,51,51,
            79.4,78,76.9,74.5,72.5,70.5,68.6,62.7,52,52.5,58.8,61.2,55.9,52,54,56.9,57.5,57.8,62.7,63.7,55.9,54,52,48,39.2,38.5,41,42.5,43,41,40.2,39.5,39.2,47,48,48.4,44,47,56.9,60.8,70.6,74.9,71.6,65.7,62,58.8,55.9,58,61.2,57.8,56,54.5,55.5,57.8,61,65.7,68.5,71.6,74,75.5,78,83.3,81.5,79.4,77.5,75.5,78.5,82.4,85,88.2,82,75.5,69.6,58.8,51,47,48.5,50.6,51.5,52.9,59.8,63,66.7,67.6,65.5,62.7,59,55.9,54,52,55.9,62.7,67.6,74.5,75.5,76.5,83.3,86.7,84,81.4,80.5,79.4,78,76.5,74.5,73,71.6,
            40.5,38.5,40,43,46,43,38,40,37,38,37,34,33,53,47,49,57,62.5,57,51.5,52,61,71,65,68,52,50.5,52,75.5,73.5,70,66,60,51.5,57,54,53,63.5,62,55,50,45,41,40,39,42,42.5,41,40,40,46,48,47,45,50,66,73,73.5,68,57,60,60,55,55,59.5,63,70,73,74.5,76.5,81,83,80.5,78.5,76.5,77,80.5,86,72,65,55,48,49.5,52,56,65,67.5,66,58,54.5,53,60,72,75,76,80,85,85.5,80,78.5,77.5,75.5,73.5,72]

# =========================
# wind components histogram
# =========================
bin_edges = list(range(-100, 105, 5))
u_counts = [0]*18 + [24,148,404,519,412,275,190,130,90,76,14,0,14,6] + [0]*8
v_counts = [0]*12 + [6,13,12,2,81,150,369,507,523,375,105,92,45,8,2,0,0,0,0,0] + [0]*8

# summary panel text
summary_lines = [
    "2025-12-03 02:42:00  to  2026-07-25 08:32:00  UTC",
    "Time aloft: 234.2 days    Data points: 2568",
    "Altitude: 9680 - 13460 m    (float 2911 h)",
    "Latitude range: 31.94 to 89.44",
    "Path length: 308,205 km",
    "Position source: Maidenhead 6-char grid    σ(E,N) = 1561, 1836 m",
    "Median sampling gap: 20 min    Longest gap: 227.5 h",
]


def to_date(days):
    return START + pd.to_timedelta(np.asarray(days, dtype=float), unit="D")


def unpack(cols):
    days = [d for d, vals in cols for _ in vals]
    vals = [v for _, col in cols for v in col]
    order = np.argsort(days, kind="stable")
    return np.array(days)[order], np.array(vals)[order]


def px_axes(fig, left, top, right, bottom):
    return fig.add_axes([left/FIG_W, 1 - bottom/FIG_H, (right-left)/FIG_W, (bottom-top)/FIG_H])


def style_time(ax):
    ax.xaxis.set_major_locator(mdates.MonthLocator())
    ax.xaxis.set_major_formatter(mdates.DateFormatter("%y-%m-%d"))
    ax.set_xlim(START + pd.Timedelta(days=-9.8), START + pd.Timedelta(days=247.6))
    ax.tick_params(axis="x", rotation=20)
    ax.grid(True, color="#b0b0b0", alpha=0.35, linewidth=1.0)
    ax.set_xlabel("")


fig = plt.figure(figsize=(FIG_W/100, FIG_H/100), dpi=100, facecolor="white")
L1, R1, L2, R2 = 83, 774, 868, 1560
T1, B1, T2, B2, T3, B3 = 31, 338, 420, 727, 808.5, 1116.5

# =========================
# flight track map
# =========================
ax = px_axes(fig, L1, T1, R1, B1)
ax.set_facecolor("#d4e6f1")
for poly in land_polys:
    xs, ys = zip(*poly)
    ax.fill(xs, ys, facecolor="#e8e8e4", edgecolor="#bfc7cc", linewidth=0.8, zorder=1)
for poly in water_polys:
    xs, ys = zip(*poly)
    ax.fill(xs, ys, facecolor="#d4e6f1", edgecolor="#bfc7cc", linewidth=0.6, zorder=1.1)
for line in border_lines:
    xs, ys = zip(*line)
    ax.plot(xs, ys, color="#d9dad8", linewidth=0.6, zorder=1.2)

runs = pd.DataFrame([(i, lon, lat) for i, run in enumerate(track_runs) for lon, lat in run],
                    columns=["run", "lon", "lat"])
sns.lineplot(data=runs, x="lon", y="lat", units="run", estimator=None, sort=False, color="#c0392b",
             linewidth=2.8, legend=False, ax=ax, zorder=3, solid_capstyle="round")
sns.scatterplot(x=track_lon, y=track_lat, color="#c0392b", s=10, linewidth=0, ax=ax, zorder=3, label="Track")
ax.scatter(launch_lon, launch_lat, s=130, marker="o", color="#27ae60", edgecolor="black", linewidth=1.2, zorder=5, label="Launch")
ax.scatter(last_lon, last_lat, s=220, marker="*", color="#2471a3", edgecolor="black", linewidth=1.2, zorder=5, label="Last fix")
ax.set_xlim(-180, 180)
ax.set_ylim(-90, 90)
ax.set_xticks(np.arange(-180, 181, 60))
ax.set_yticks(np.arange(-90, 91, 30))
ax.xaxis.set_major_formatter(lambda v, p: f"{v:.0f}".replace("-", "\u2212"))
ax.yaxis.set_major_formatter(lambda v, p: f"{v:.0f}".replace("-", "\u2212"))
ax.grid(True, color="gray", alpha=0.25, linewidth=0.5, linestyle=":", zorder=2)
ax.set_axisbelow(False)
ax.set_title("Flight Track")
ax.set_xlabel("Longitude (deg)")
ax.set_ylabel("Latitude (deg)")
ax.legend(loc="lower left", framealpha=0.8, fontsize=8)

# =========================
# summary text
# =========================
ax = px_axes(fig, L2, T1, R2, B1)
ax.axis("off")


def panel_text(y_px, txt, dx=0, **kw):
    fig.text(((L2+R2)/2 + dx)/FIG_W, 1 - y_px/FIG_H, txt, ha="center", va="center", **kw)


panel_text(52, "Pico Balloon Archive", fontsize=16, color="#1a5276")
panel_text(74.5, "Callsign: SP6MPL-34   (WSPR)", fontsize=14)
for y_px, line in zip([95.5, 119, 142, 164.5, 187.5, 210.5, 234], summary_lines):
    panel_text(y_px, line, fontsize=11)
panel_text(258, "Data quality score: 0.858", fontsize=13, color="#1a5276")
panel_text(279, "precision=0.92   cadence=0.91   agreement=1.00   stability=0.99   coverage=0.52", dx=4.5, fontsize=9, color="#555555")

# =========================
# wind speed
# =========================
ax = px_axes(fig, L1, T2, R1, B2)
w_days, w_vals = unpack(wind_cols)
w_sig = np.where(w_days < sigma_split_day, sigma_early, sigma_late)
ax.fill_between(to_date(w_days), np.clip(w_vals - w_sig, 0, None), w_vals + w_sig, color="#7f8c8d", alpha=0.33,
                linewidth=0, label="±1σ propagated error")
sns.scatterplot(x=to_date(w_days), y=w_vals, color="#2c3e50", s=10, linewidth=0, ax=ax, label="Wind speed", zorder=3)
sns.lineplot(x=to_date(mean_days), y=mean_wind, color="#c0392b", linewidth=1.4, sort=False, estimator=None,
             ax=ax, label="Daily mean", zorder=4)
ax.set_ylim(0, 63.1)
style_time(ax)
ax.set_title("Wind Speed vs. Time")
ax.set_ylabel("Wind speed (m s$^{-1}$)")
ax.legend(loc="upper right", framealpha=0.8, fontsize=8)

# =========================
# latitude
# =========================
ax = px_axes(fig, L2, T2, R2, B2)
sns.scatterplot(x=to_date(lat_days), y=lat_vals, color="black", s=18, linewidth=0, ax=ax, zorder=3)
ax.set_ylim(-90, 90)
ax.set_yticks(np.arange(-90, 91, 30))
ax.yaxis.set_major_formatter(lambda v, p: f"{v:.0f}".replace("-", "\u2212"))
style_time(ax)
ax.set_title("Latitude vs. Time")
ax.set_ylabel("Latitude (deg)")

# =========================
# altitude
# =========================
ax = px_axes(fig, L1, T3, R1, B3)
a_days, a_vals = unpack(alt_cols)
sns.scatterplot(x=to_date(a_days), y=a_vals, color="#7f8c8d", s=18, linewidth=0, ax=ax, zorder=3)
sns.scatterplot(x=to_date(alt_out_days), y=alt_out_vals, color="#7f8c8d", s=8, linewidth=0, ax=ax, zorder=3)
sns.lineplot(x=to_date(mean_alt_days), y=mean_alt, color="#c0392b", linewidth=1.4, sort=False, estimator=None, ax=ax, zorder=4)
ax.set_ylim(10250, 13620)
style_time(ax)
ax.set_title("Balloon Altitude vs. Time")
ax.set_ylabel("Altitude (m AMSL)")
ax.set_xlabel("UTC date")

# =========================
# U and V histogram
# =========================
ax = px_axes(fig, L2, T3, R2, B3)
centers = [(a + b) / 2 for a, b in zip(bin_edges[:-1], bin_edges[1:])]
edge_col = (0, 0, 0, 0.65)
sns.histplot(x=centers, weights=u_counts, bins=bin_edges, color="#1f77b4", alpha=0.65, edgecolor=edge_col,
             linewidth=1.0, ax=ax, label="U (zonal)")
sns.histplot(x=centers, weights=v_counts, bins=bin_edges, color="#ff7f0e", alpha=0.65, edgecolor=edge_col,
             linewidth=1.0, ax=ax, label="V (meridional)")
ax.set_xlim(-100, 100)
ax.set_ylim(0, 550)
ax.grid(True, color="#b0b0b0", alpha=0.35, linewidth=1.0)
ax.set_title("U and V Wind Components")
ax.set_xlabel("Wind speed (m s$^{-1}$)")
ax.set_ylabel("Frequency")
ax.legend(loc="upper right", framealpha=0.8, fontsize=8)

fig.savefig("out.png", dpi=100)
